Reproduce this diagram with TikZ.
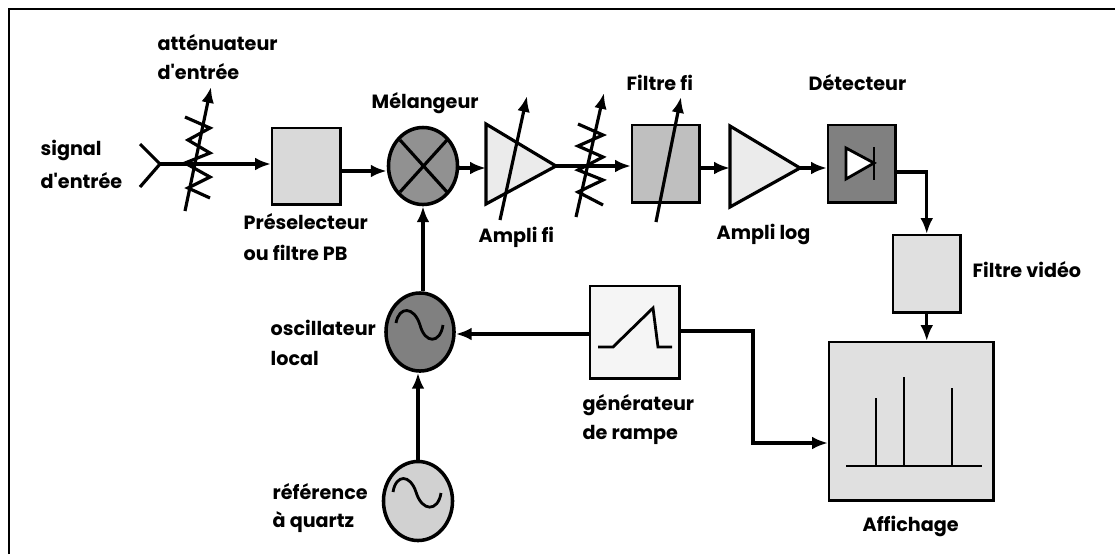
\documentclass[tikz,border=0pt]{standalone}
\usepackage{fontspec}
\setmainfont{Poppins}[Ligatures=TeXOff]
\usetikzlibrary{arrows.meta,shapes.geometric}
\tikzset{
	block/.style = {draw, line width = .7pt, inner sep = 0pt, anchor = north west},
	lobe/.style = {draw, ellipse, line width = 1pt, inner sep = 0pt},
	lab/.style = {font = \fontsize{5.45}{6}\selectfont\bfseries, inner sep = 0pt, anchor = west},
	sig/.style = {line width = .9pt, -{Latex[length = 4.5pt, width = 3.6pt]}}
}
\begin{document}
\begin{tikzpicture}[x = .01cm, y = -.01cm]
	\useasboundingbox (0,0) rectangle (1115,554);
	\draw [line width = .7pt] (9,554) -- (9,9) -- (1115,9);

	% blocs
	\node [block, fill = black!15, minimum width = .68cm, minimum height = .76cm] (presel) at (271,127) {};
	\node [lobe, fill = black!43, minimum width = .69cm, minimum height = .77cm] (melang) at (423,166) {};
	\node [block, fill = black!25, minimum width = .67cm, minimum height = .77cm] (filtrefi) at (631,124) {};
	\node [block, fill = black!50, minimum width = .67cm, minimum height = .77cm] (detect) at (827,124) {};
	\node [block, fill = black!12, minimum width = .67cm, minimum height = .77cm] (video) at (892,234) {};
	\node [block, fill = black!12, minimum width = 1.64cm, minimum height = 1.58cm] (affich) at (828,341) {};
	\node [block, fill = black!4, minimum width = .89cm, minimum height = .92cm] (rampe) at (589,285) {};
	\node [lobe, fill = black!50, minimum width = .68cm, minimum height = .78cm] (oscil) at (420,332) {};
	\node [lobe, fill = black!18, minimum width = .69cm, minimum height = .79cm] (quartz) at (418,501) {};

	% amplis
	\draw [fill = black!8, line width = .9pt] (486,124) -- (486,204) -- (556,166) -- cycle;
	\draw [fill = black!8, line width = .9pt] (730,126) -- (730,207) -- (800,168) -- cycle;
	\coordinate (ampfi) at (556,166);
	\coordinate (amplog) at (800,168);

	% signal
	\coordinate (yin) at (160,164);
	\draw [line width = .9pt] (140,144) -- (yin) -- (140,187);
	\draw [sig] (yin) -- (presel.west |- yin);
	\draw [sig] (presel.east |- 0,171) -- (melang.west |- 0,171);
	\draw [sig] (melang.east |- 0,168) -- (486,168);
	\draw [sig] (ampfi) -- (filtrefi.west |- ampfi);
	\draw [sig] (filtrefi.east |- amplog) -- (730,168);
	\draw [sig] (amplog) -- (detect.west |- amplog);
	\draw [sig] (detect.east |- 0,172) -| (video.north);
	\draw [sig] (video.south) -- (video.south |- affich.north);
	\draw [sig] (melang.south |- oscil.north) -- (melang.south);
	\draw [sig] (rampe.west |- 0,334) -- (oscil.east |- 0,334);
	\draw [sig] (quartz.north) -- (quartz.north |- oscil.south);
	\draw [sig] (rampe.east |- 0,331) -- (753,331) |- (affich.west |- 0,443);

	% attenuateurs
	\draw [line width = .9pt] (185,117) -- (210,128) -- (188,140) -- (210,153) -- (185,163) -- (210,177) -- (188,188) -- (210,198);
	\draw [line width = .9pt] (578,124) -- (603,135) -- (578,146) -- (603,157) -- (578,170) -- (603,180) -- (578,192) -- (603,205);

	% fleches de reglage
	\draw [sig] (185,211) -- (211,87);
	\draw [sig] (500,220) -- (527,96);
	\draw [sig] (576,217) -- (604,93);
	\draw [sig] (656,222) -- (681,97);

	% melangeur
	\draw [line width = .9pt] (400,140) -- (447,192);
	\draw [line width = .9pt] (447,140) -- (400,192);

	% diode
	\draw [fill = white, line width = .8pt] (846,148) -- (846,179) -- (874,163) -- cycle;
	\draw [line width = .5pt] (874,147) -- (874,180);

	% sinus
	\draw [line width = .8pt] (396,323) .. controls (399,306) and (414,306) .. (420,325) .. controls (425,344) and (440,344) .. (443,325);
	\draw [line width = .8pt] (393,492) .. controls (396,474) and (410,474) .. (416,492) .. controls (422,512) and (438,512) .. (441,493);

	% rampe
	\draw [line width = .8pt] (598,347) -- (613,347) -- (653,308) -- (658,347) -- (672,347);

	% affichage
	\draw [line width = .8pt] (846,466) -- (982,466);
	\draw [line width = .8pt] (876,466) -- (876,398);
	\draw [line width = .8pt] (904,466) -- (904,377);
	\draw [line width = .8pt] (952,466) -- (952,388);

	% textes
	\node [lab] (tatt) at (157,43) {atténuateur};
	\node [lab] (tatt2) at (157,72) {d'entrée};
	\node [lab] (tsig) at (40,150) {signal};
	\node [lab] (tsig2) at (40,181) {d'entrée};
	\node [lab] (tmel) at (371,103) {Mélangeur};
	\node [lab] (tpre) at (243,222) {Préselecteur};
	\node [lab] (tpre2) at (243,253) {ou filtre PB};
	\node [lab] (tamp) at (478,237) {Ampli fi};
	\node [lab] (tfil) at (626,83) {Filtre fi};
	\node [lab] (tdet) at (808,83) {Détecteur};
	\node [lab] (tlog) at (716,234) {Ampli log};
	\node [lab] (tvid) at (972,270) {Filtre vidéo};
	\node [lab] (tosc) at (270,328) {oscillateur};
	\node [lab] (tosc2) at (270,358) {local};
	\node [lab] (tref) at (272,492) {référence};
	\node [lab] (tref2) at (272,522) {à quartz};
	\node [lab] (tgen) at (582,405) {générateur};
	\node [lab] (tgen2) at (582,435) {de rampe};
	\node [lab] (taff) at (862,526) {Affichage};
\end{tikzpicture}
\end{document}
